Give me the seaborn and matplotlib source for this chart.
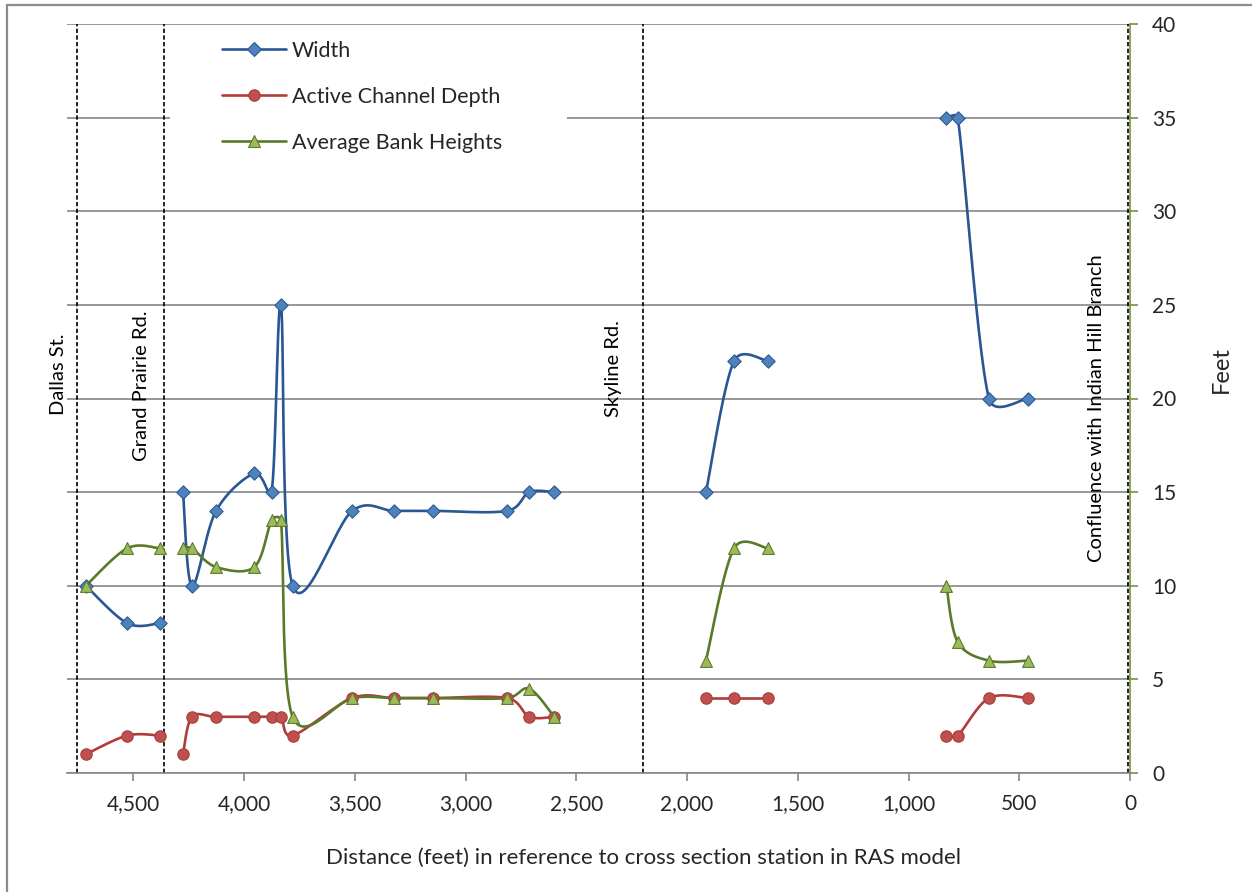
import numpy as np
import pandas as pd
import matplotlib
matplotlib.use("Agg")
import matplotlib.pyplot as plt
from matplotlib.lines import Line2D
from matplotlib.patches import Rectangle
from matplotlib.ticker import FuncFormatter
import seaborn as sns

# data

stations = [4715, 4528, 4380, 4276, 4236, 4127, 3954, 3876, 3834, 3781, 3512, 3324,
            3148, 2812, 2712, 2600, 1915, 1788, 1634, 829, 778, 637, 460]
reach = [0, 0, 0, 1, 1, 1, 1, 1, 1, 1, 1, 1, 1, 1, 1, 1, 2, 2, 2, 3, 3, 3, 3]
width = [10, 8, 8, 15, 10, 14, 16, 15, 25, 10, 14, 14, 14, 14, 15, 15, 15, 22, 22, 35, 35, 20, 20]
depth = [1, 2, 2, 1, 3, 3, 3, 3, 3, 2, 4, 4, 4, 4, 3, 3, 4, 4, 4, 2, 2, 4, 4]
bank = [10, 12, 12, 12, 12, 11, 11, 13.5, 13.5, 3, 4, 4, 4, 4, 4.5, 3, 6, 12, 12, 10, 7, 6, 6]

crossings = [4754, 4361, 2200, 10]
crossing_names = ["Dallas St.", "Grand Prairie Rd.", "Skyline Rd.", "Confluence with Indian Hill Branch"]
label_x = [4840, 4462, 2332, 150]
label_y = [21.3, 20.7, 21.6, 19.5]

x_ticks = [0, 500, 1000, 1500, 2000, 2500, 3000, 3500, 4000, 4500]
y_ticks = [0, 5, 10, 15, 20, 25, 30, 35, 40]

df = pd.DataFrame({"station": stations, "reach": reach, "Width": width,
                   "Active Channel Depth": depth, "Average Bank Heights": bank})

series = [
    ("Width", "D", 6.8, "#2A5694", "#4F81BD", "#2C5A94"),
    ("Active Channel Depth", "o", 8.2, "#B03C3A", "#C0504D", "#A63E3B"),
    ("Average Bank Heights", "^", 8.5, "#5A7A2A", "#9BBB59", "#5C7A2C"),
]

# pixel scale of the plot area, used so the smoothing behaves like excel's
PX_X = 1063 / 4800
PX_Y = 749 / 40


def smooth(xs, ys, n=30):
    pts = np.column_stack([np.asarray(xs) * PX_X, np.asarray(ys) * PX_Y]).astype(float)
    m = len(pts)
    if m < 2:
        return pts
    out = [pts[0]]
    t = np.linspace(0, 1, n)[1:, None]
    for i in range(m - 1):
        p0 = pts[max(i - 1, 0)]
        p1, p2 = pts[i], pts[i + 1]
        p3 = pts[min(i + 2, m - 1)]
        half = np.linalg.norm(p2 - p1) / 2
        h1 = (p2 - p0) / 6
        h2 = (p3 - p1) / 6
        # handles never longer than half the segment
        if np.linalg.norm(h1) > half:
            h1 = h1 / np.linalg.norm(h1) * half
        if np.linalg.norm(h2) > half:
            h2 = h2 / np.linalg.norm(h2) * half
        c1 = p1 + h1
        c2 = p2 - h2
        seg = (1 - t) ** 3 * p1 + 3 * (1 - t) ** 2 * t * c1 + 3 * (1 - t) * t ** 2 * c2 + t ** 3 * p2
        out.extend(seg)
    out = np.array(out)
    out[:, 0] /= PX_X
    out[:, 1] /= PX_Y
    return out


sns.set_style("white")
plt.rcParams["font.family"] = ["Lato", "DejaVu Sans"]

fig = plt.figure(figsize=(12.52, 8.92), dpi=100)
ax = fig.add_axes([67 / 1252, 1 - 773 / 892, (1130 - 67) / 1252, (773 - 24) / 892])

# gridlines
ax.set_axisbelow(True)
ax.yaxis.grid(True, color="#868686", linewidth=1.2)
ax.xaxis.grid(False)

# white box behind legend hides part of the grid
ax.add_patch(Rectangle((0.097, 0.818), 0.3735, 0.172, transform=ax.transAxes,
                       facecolor="white", edgecolor="none", zorder=1.5))

# road crossings
for xc, name, lx, ly in zip(crossings, crossing_names, label_x, label_y):
    ax.axvline(xc, color="black", linewidth=1.2, linestyle=(0, (2.6, 1.4)), zorder=2)
    ax.text(lx, ly, name, rotation=90, ha="center", va="center", fontsize=14.5,
            color="black", clip_on=False)

handles = []
for name, marker, ms, lc, fc, ec in series:
    for r, grp in df.groupby("reach"):
        curve = smooth(grp["station"].values, grp[name].values)
        cdf = pd.DataFrame({"x": curve[:, 0], "y": curve[:, 1]})
        sns.lineplot(data=cdf, x="x", y="y", sort=False, estimator=None, ax=ax,
                     color=lc, linewidth=1.9, zorder=3)
    sns.scatterplot(data=df, x="station", y=name, marker=marker, s=ms ** 2, ax=ax,
                    color=fc, edgecolor=ec, linewidth=0.8, zorder=4)
    handles.append(Line2D([], [], color=lc, linewidth=1.9, marker=marker, markersize=ms,
                          markerfacecolor=fc, markeredgecolor=ec, markeredgewidth=0.8))

leg = ax.legend(handles, [s[0] for s in series], loc="upper left",
                bbox_to_anchor=((222 - 67) / 1063, (773 - 41) / 749), frameon=False,
                fontsize=15.5, handlelength=2.95, handletextpad=0.3, labelspacing=1.2,
                borderpad=0, borderaxespad=0)
leg.set_zorder(5)

ax.set_xlim(4800, 0)
ax.set_ylim(0, 40)
ax.set_xticks(x_ticks)
ax.xaxis.set_major_formatter(FuncFormatter(lambda v, p: f"{int(v):,}"))
ax.set_yticks(y_ticks)
ax.yaxis.tick_right()
ax.set_xlabel("")
ax.set_ylabel("")

for side in ["top", "left"]:
    ax.spines[side].set_visible(False)
ax.spines["bottom"].set_color("#868686")
ax.spines["bottom"].set_linewidth(1.2)
ax.spines["right"].set_color("#76923C")
ax.spines["right"].set_linewidth(1.2)

ax.tick_params(axis="x", direction="out", length=6, width=1.2, color="#868686",
               labelsize=15, pad=9, bottom=True)
ax.tick_params(axis="y", direction="out", length=6, width=1.2, color="#76923C",
               labelsize=15, pad=10, right=True, left=False, labelright=True, labelleft=False)

fig.text(643 / 1252, 1 - 858 / 892, "Distance (feet) in reference to cross section station in RAS model",
         ha="center", va="center", fontsize=16)
fig.text(1221 / 1252, 1 - 370 / 892, "Feet", rotation=90, ha="center", va="center", fontsize=17)

# chart area border (left and top edges visible)
fig.patches.append(Rectangle((7 / 1252, -0.5), 2, 1.5 - 5 / 892,
                             transform=fig.transFigure, fill=False, edgecolor="#8C8C8C",
                             linewidth=1.6))

fig.savefig("out.png", dpi=100)
